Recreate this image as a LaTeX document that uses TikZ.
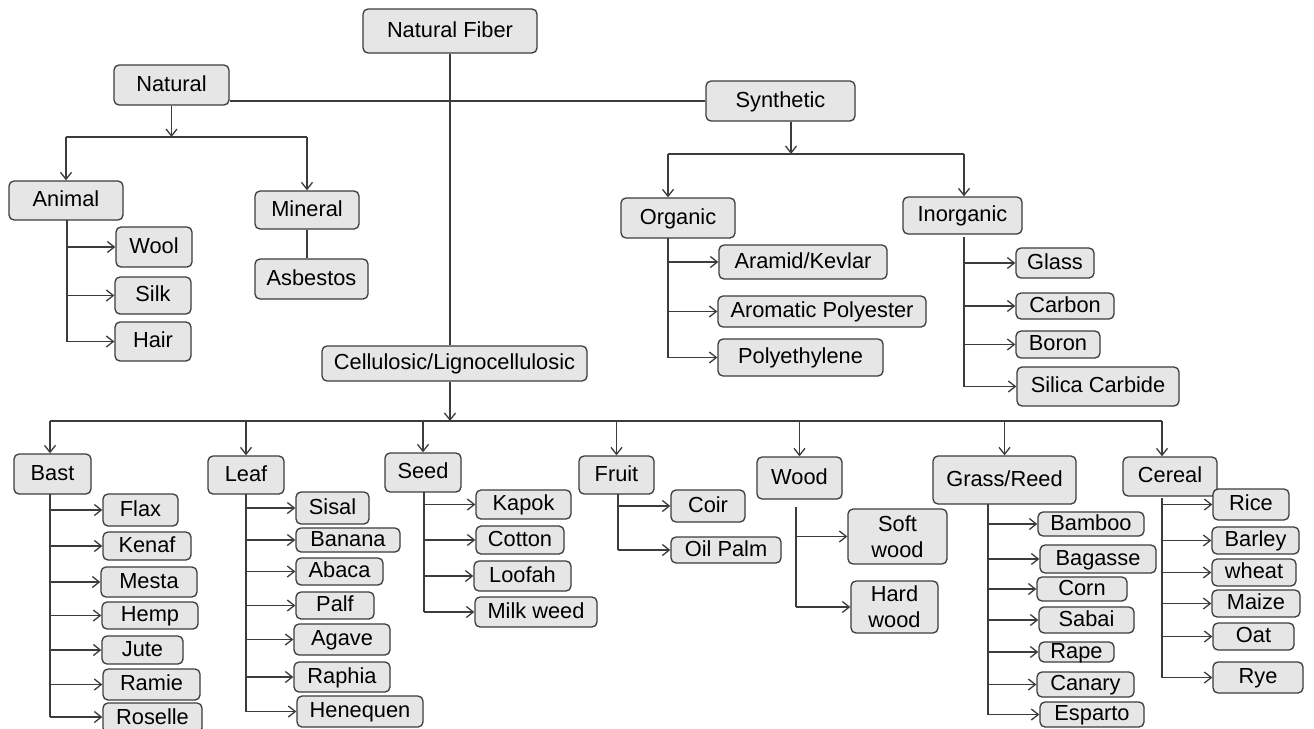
\documentclass[tikz,border=0pt]{standalone}
\usepackage{fontspec}
\setmainfont{Liberation Sans}
\usetikzlibrary{arrows.meta}
\definecolor{lc}{HTML}{3C3C3C}
\definecolor{bf}{HTML}{E6E6E6}
\tikzset{
 box/.style={draw=lc, fill=bf, rounded corners=5pt, line width=1.3pt, inner xsep=3pt, inner ysep=0pt, font=\fontsize{21.8}{26}\selectfont, align=center},
 one/.style={text height=15.5pt, text depth=3.5pt},
 ln/.style={draw=lc, line width=1.4pt},
 arr/.style={ln, -{Straight Barb[length=7pt,width=11pt,line width=1.3pt]}},
}
\newcommand\bx[6]{\node[box,one,minimum width={#4-#2},minimum height={#5-#3}] (#1) at ({(#2+#4)/2},{(#3+#5)/2}) {#6};}
\begin{document}
\begin{tikzpicture}[x=1pt,y=-1pt]
\fill[white] (0,0) rectangle (1314,728);
\useasboundingbox (0,0) rectangle (1314,728);
% top level
\bx{nf}{363}{9}{537}{53}{Natural Fiber}
\bx{natural}{114}{65}{229}{105}{Natural}
\bx{syn}{706}{81}{855}{121}{Synthetic}
\bx{animal}{9}{181}{123}{220}{Animal}
\bx{mineral}{255}{191}{359}{229}{Mineral}
\bx{asbestos}{255}{259}{368}{299}{Asbestos}
\bx{wool}{116}{227}{192}{267}{Wool}
\bx{silk}{115}{277}{191}{314}{Silk}
\bx{hair}{115}{322}{191}{361}{Hair}
\bx{organic}{621}{198}{735}{238}{Organic}
\bx{inorganic}{903}{197}{1022}{234}{Inorganic}
\bx{aramid}{719}{245}{887}{279}{Aramid/Kevlar}
\bx{aromatic}{718}{296}{926}{327}{Aromatic Polyester}
\bx{polyeth}{718}{339}{883}{376}{Polyethylene}
\bx{glass}{1016}{248}{1094}{278}{Glass}
\bx{carbon}{1016}{293}{1114}{319}{Carbon}
\bx{boron}{1016}{331}{1100}{358}{Boron}
\bx{silica}{1017}{367}{1179}{406}{Silica Carbide}
\bx{cell}{322}{346}{587}{381}{Cellulosic/Lignocellulosic}
% second row
\bx{bast}{14}{454}{91}{494}{Bast}
\bx{leaf}{208}{456}{284}{494}{Leaf}
\bx{seed}{385}{453}{461}{492}{Seed}
\bx{fruit}{579}{456}{654}{494}{Fruit}
\bx{wood}{757}{457}{842}{499}{Wood}
\bx{grass}{933}{456}{1076}{504}{Grass/Reed}
\bx{cereal}{1123}{457}{1217}{496}{Cereal}
% bast
\bx{flax}{103}{494}{178}{526}{Flax}
\bx{kenaf}{103}{532}{191}{560}{Kenaf}
\bx{mesta}{101}{567}{197}{597}{Mesta}
\bx{hemp}{102}{602}{198}{629}{Hemp}
\bx{jute}{102}{636}{183}{664}{Jute}
\bx{ramie}{103}{669}{200}{700}{Ramie}
\bx{roselle}{103}{703}{202}{733}{Roselle}
% leaf
\bx{sisal}{296}{492}{369}{524}{Sisal}
\bx{banana}{296}{528}{400}{552}{Banana}
\bx{abaca}{296}{558}{383}{585}{Abaca}
\bx{palf}{296}{592}{374}{619}{Palf}
\bx{agave}{294}{624}{390}{655}{Agave}
\bx{raphia}{294}{662}{390}{692}{Raphia}
\bx{henequen}{297}{696}{423}{727}{Henequen}
% seed
\bx{kapok}{476}{490}{571}{519}{Kapok}
\bx{cotton}{476}{526}{564}{554}{Cotton}
\bx{loofah}{474}{561}{571}{591}{Loofah}
\bx{milkweed}{475}{597}{597}{627}{Milk weed}
% fruit
\bx{coir}{671}{490}{745}{522}{Coir}
\bx{oilpalm}{671}{537}{781}{563}{Oil Palm}
% wood
\node[box,minimum width=99,minimum height=55] (softwood) at (897.5,536.5) {Soft\\wood};
\node[box,minimum width=87,minimum height=52] (hardwood) at (894.5,607) {Hard\\wood};
% grass
\bx{bamboo}{1038}{512}{1144}{536}{Bamboo}
\bx{bagasse}{1040}{545}{1156}{573}{Bagasse}
\bx{corn}{1037}{577}{1127}{601}{Corn}
\bx{sabai}{1039}{607}{1134}{633}{Sabai}
\bx{rape}{1039}{642}{1114}{662}{Rape}
\bx{canary}{1037}{672}{1134}{697}{Canary}
\bx{esparto}{1040}{702}{1144}{727}{Esparto}
% cereal
\bx{rice}{1213}{489}{1289}{520}{Rice}
\bx{barley}{1212}{527}{1299}{554}{Barley}
\bx{wheat}{1212}{559}{1296}{586}{wheat}
\bx{maize}{1212}{590}{1300}{617}{Maize}
\bx{oat}{1213}{623}{1294}{650}{Oat}
\bx{rye}{1213}{662}{1303}{693}{Rye}

% ---- connectors ----
\coordinate (natBar) at (171,137);
\coordinate (synBar) at (791,154);
\coordinate (barL) at (50,421);
\coordinate (barR) at (1162,421);
\coordinate (aT) at (67,220);
\coordinate (oT) at (668,238);
\coordinate (iT) at (964,237);
\coordinate (bT) at (50,494);
\coordinate (lT) at (246,494);
\coordinate (sT) at (424,492);
\coordinate (fT) at (618,494);
\coordinate (wT) at (796,507);
\coordinate (gT) at (988,504);
\coordinate (cT) at (1162,498);
\coordinate (roY) at (0,717);

\draw[ln] (syn.west) -- (syn.west -| natural.east);
\draw[ln] (nf.south) -- (nf.south |- cell.north);
% natural
\draw[arr] (natural.south) -- (natural.south |- natBar);
\draw[ln] (animal.north |- natBar) -- (mineral.north |- natBar);
\draw[arr] (animal.north |- natBar) -- (animal.north);
\draw[arr] (mineral.north |- natBar) -- (mineral.north);
\draw[ln] (mineral.south) -- (mineral.south |- asbestos.north);
\draw[ln] (aT) -- (aT |- hair.west);
\foreach \c in {wool,silk,hair} \draw[arr] (aT |- \c.west) -- (\c.west);
% synthetic
\draw[arr] (synBar |- syn.south) -- (synBar);
\draw[ln] (oT |- synBar) -- (iT |- synBar);
\draw[arr] (oT |- synBar) -- (oT |- organic.north);
\draw[arr] (iT |- synBar) -- (iT |- inorganic.north);
\draw[ln] (oT) -- (oT |- polyeth.west);
\foreach \c in {aramid,aromatic,polyeth} \draw[arr] (oT |- \c.west) -- (\c.west);
\draw[ln] (iT) -- (iT |- silica.west);
\foreach \c in {glass,carbon,boron,silica} \draw[arr] (iT |- \c.west) -- (\c.west);
% cellulosic
\draw[arr] (nf.south |- cell.south) -- (nf.south |- barL);
\draw[ln] (barL) -- (barR);
\draw[arr] (barL) -- (barL |- bast.north);
\foreach \c in {leaf,seed,fruit,wood,grass} \draw[arr] (\c.north |- barL) -- (\c.north);
\draw[arr] (barR) -- (barR |- cereal.north);
% subgroups
\draw[ln] (bT) -- (bT |- roY);
\foreach \c in {flax,kenaf,mesta,hemp,jute,ramie} \draw[arr] (bT |- \c.west) -- (\c.west);
\draw[arr] (bT |- roY) -- (roselle.west |- roY);
\draw[ln] (lT) -- (lT |- henequen.west);
\foreach \c in {sisal,banana,abaca,palf,agave,raphia,henequen} \draw[arr] (lT |- \c.west) -- (\c.west);
\draw[ln] (sT) -- (sT |- milkweed.west);
\foreach \c in {kapok,cotton,loofah,milkweed} \draw[arr] (sT |- \c.west) -- (\c.west);
\draw[ln] (fT) -- (fT |- oilpalm.west);
\foreach \c in {coir,oilpalm} \draw[arr] (fT |- \c.west) -- (\c.west);
\draw[ln] (wT) -- (wT |- hardwood.west);
\foreach \c in {softwood,hardwood} \draw[arr] (wT |- \c.west) -- (\c.west);
\draw[ln] (gT) -- (gT |- esparto.west);
\foreach \c in {bamboo,bagasse,corn,sabai,rape,canary,esparto} \draw[arr] (gT |- \c.west) -- (\c.west);
\draw[ln] (cT) -- (cT |- rye.west);
\foreach \c in {rice,barley,wheat,maize,oat,rye} \draw[arr] (cT |- \c.west) -- (\c.west);
\end{tikzpicture}
\end{document}
